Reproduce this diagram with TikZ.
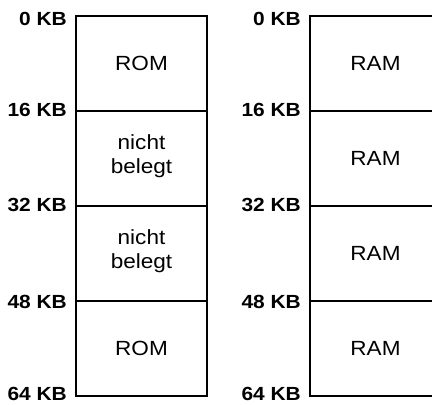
\documentclass[tikz,border=0pt]{standalone}
\usepackage{fontspec}
\setmainfont[FakeStretch=1.1]{Liberation Sans}
\tikzset{
  frame/.style={line width=1.2pt, black},
  cell/.style={inner sep=0pt, align=center, font=\fontsize{20.5}{23.5}\selectfont},
  addr/.style={inner sep=0pt, anchor=east, font=\fontsize{19}{20}\selectfont\bfseries},
}
\begin{document}
\begin{tikzpicture}[x=1pt,y=1pt]
\useasboundingbox (0,0) rectangle (432,-405);
% left memory map: ROM / free / free / ROM
\draw[frame] (76,-16) rectangle (207,-396);
\foreach \y in {-111,-206,-301} \draw[frame] (76,\y) -- (207,\y);
\node[cell] (l1) at (141.5,-63.5) {ROM};
\node[cell] (l2) at (141.5,-156) {nicht\\belegt};
\node[cell] (l3) at (141.5,-251) {nicht\\belegt};
\node[cell] (l4) at (141.5,-348.5) {ROM};
\node[addr] (la0) at (67,-19) {0 KB};
\node[addr] (la1) at (67,-110) {16 KB};
\node[addr] (la2) at (67,-205) {32 KB};
\node[addr] (la3) at (67,-301.5) {48 KB};
\node[addr] (la4) at (67,-393.5) {64 KB};
% right memory map: four RAM banks
\draw[frame] (441,-16) -- (310,-16) -- (310,-396) -- (441,-396);
\foreach \y in {-111,-206,-301} \draw[frame] (310,\y) -- (441,\y);
\node[cell] (r1) at (375.5,-63.5) {RAM};
\node[cell] (r2) at (375.5,-158.5) {RAM};
\node[cell] (r3) at (375.5,-253.5) {RAM};
\node[cell] (r4) at (375.5,-348.5) {RAM};
\node[addr] (ra0) at (301,-19) {0 KB};
\node[addr] (ra1) at (301,-110) {16 KB};
\node[addr] (ra2) at (301,-205) {32 KB};
\node[addr] (ra3) at (301,-301.5) {48 KB};
\node[addr] (ra4) at (301,-393.5) {64 KB};
\end{tikzpicture}
\end{document}
